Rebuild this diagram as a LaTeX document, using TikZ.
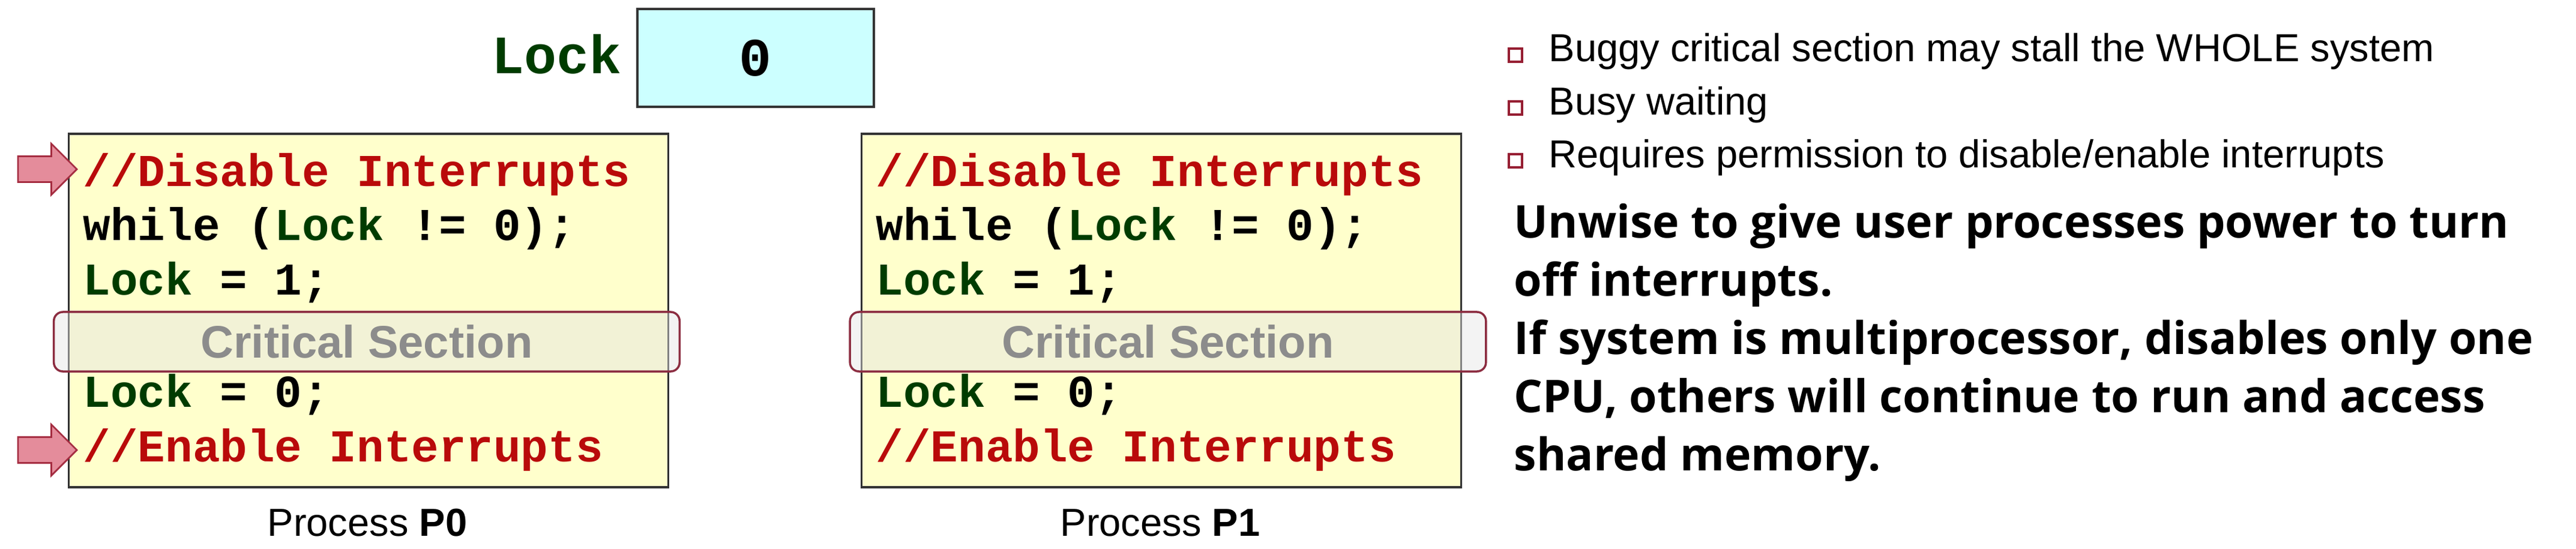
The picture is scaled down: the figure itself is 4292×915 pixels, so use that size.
\documentclass[tikz,border=0pt]{standalone}
\usepackage{fontspec}
\setmainfont{Liberation Sans}
\setmonofont{Liberation Mono}
\newfontfamily\notefont{Open Sans}
\usetikzlibrary{shapes.arrows}

\definecolor{codered}{RGB}{185,10,10}
\definecolor{codegreen}{RGB}{0,60,0}
\definecolor{boxyellow}{RGB}{255,255,204}
\definecolor{boxcyan}{RGB}{204,255,255}
\definecolor{csred}{RGB}{140,45,65}
\definecolor{csfill}{RGB}{228,228,228}
\definecolor{csgray}{RGB}{140,140,140}
\definecolor{arrowpink}{RGB}{228,140,155}
\definecolor{arrowred}{RGB}{165,45,65}
\definecolor{bulletred}{RGB}{150,30,50}

\newcommand{\lockvar}{\textcolor{codegreen}{Lock}}

\tikzset{
    code/.style={anchor=base west, inner sep=0pt, font=\ttfamily\bfseries\fontsize{21.6}{26}\selectfont},
    procbox/.style={draw=black!80, line width=1pt, fill=boxyellow, minimum width=9.98cm, minimum height=5.89cm},
    critbox/.style={draw=csred, line width=1pt, rounded corners=0.15cm, fill=csfill, fill opacity=0.45,
        text opacity=1, text=csgray, inner sep=0pt, minimum height=0.99cm,
        font=\bfseries\fontsize{21.6}{26}\selectfont},
    proclabel/.style={anchor=base, inner sep=0pt, font=\fontsize{18.5}{22}\selectfont},
    lockval/.style={draw=black!80, line width=1pt, fill=boxcyan, minimum width=3.94cm, minimum height=1.63cm,
        font=\ttfamily\bfseries\fontsize{25.6}{30}\selectfont},
    lockname/.style={inner sep=0pt, text=codegreen, font=\ttfamily\bfseries\fontsize{25.6}{30}\selectfont},
    intarrow/.style={single arrow, anchor=tip, draw=arrowred, fill=arrowpink, line width=0.8pt,
        inner sep=0.2cm, single arrow head extend=0.21cm, minimum height=0.98cm},
    bullet/.style={anchor=base west, inner sep=0pt, font=\fontsize{18.5}{22}\selectfont},
    bulletsq/.style={draw=bulletred, line width=0.9pt, fill=white},
    note/.style={anchor=base west, inner sep=0pt, font=\notefont\bfseries\fontsize{21.4}{26}\selectfont}
}

\begin{document}
\begin{tikzpicture}[x=0.01cm, y=-0.01cm]
    \useasboundingbox (0,0) rectangle (4292,915);

    % Variable compartida
    \node[lockval] (lockval) at (1259,96.5) {0};
    \node[lockname, anchor=base east] (lockname) at (1036,123) {Lock};

    % Procesos
    \foreach \p/\dx/\cx/\cw in {0/0/611/10.42cm, 1/1321/1946/10.59cm}{
        \node[procbox] (box\p) at (614+\dx,517.5) {};
        \node[code] (dis\p) at (138+\dx,310) {\textcolor{codered}{//Disable Interrupts}};
        \node[code] (wait\p) at (138+\dx,400) {while (\lockvar{} != 0);};
        \node[code] (set\p) at (138+\dx,491) {\lockvar{} = 1;};
        \node[critbox, minimum width=\cw] (cs\p) at (\cx,569.5) {Critical Section};
        \node[code] (clr\p) at (138+\dx,678) {\lockvar{} = 0;};
        \node[code] (ena\p) at (138+\dx,769) {\textcolor{codered}{//Enable Interrupts}};
        \node[proclabel] (name\p) at (612+\dx,893) {Process \textbf{P\p}};
    }

    % Flechas
    \node[intarrow] (arrdis) at (130,282) {};
    \node[intarrow] (arrena) at (130,750) {};

    % Desventajas
    \foreach \t [count=\i] in {Buggy critical section may stall the WHOLE system, Busy waiting, Requires permission to disable/enable interrupts}{
        \node[bullet] (bul\i) at (2580,15+88*\i) {\t};
        \draw[bulletsq] ([xshift=-0.66cm]bul\i.base west) rectangle +(22,-22);
    }

    % Notas
    \foreach \t [count=\i] in {{Unwise to give user processes power to turn}, {off interrupts.},
        {If system is multiprocessor, disables only one}, {CPU, others will continue to run and access}, {shared memory.}}{
        \node[note] (note\i) at (2522,299+97*\i) {\t};
    }
\end{tikzpicture}
\end{document}
